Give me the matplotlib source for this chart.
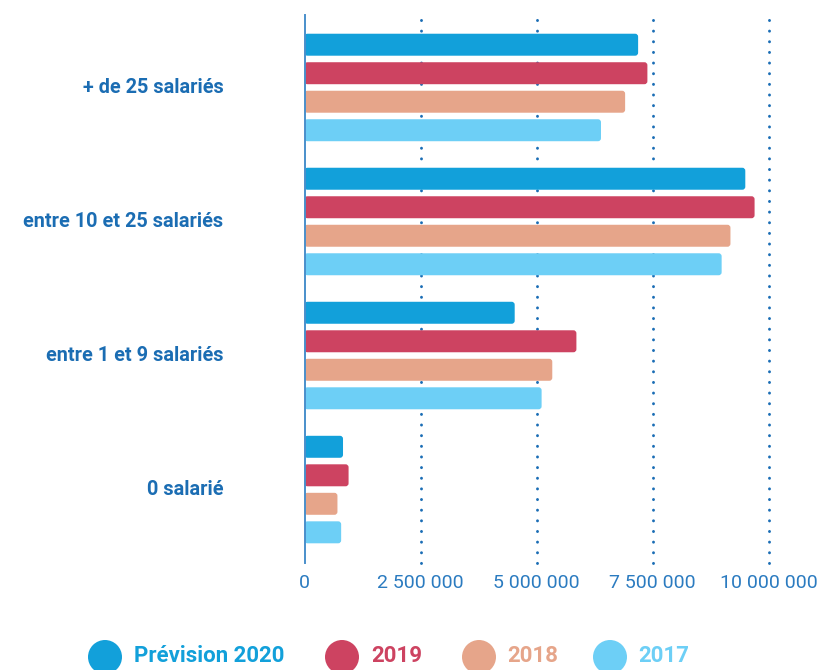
import matplotlib
matplotlib.use("Agg")
import matplotlib.pyplot as plt
from matplotlib.patches import FancyBboxPatch, Ellipse
import numpy as np

categories = ["+ de 25 salariés", "entre 10 et 25 salariés", "entre 1 et 9 salariés", "0 salarié"]
series_names = ["Prévision 2020", "2019", "2018", "2017"]
prev2020 = [7190000, 9500000, 4530000, 830000]
y2019 = [7390000, 9700000, 5860000, 950000]
y2018 = [6910000, 9180000, 5340000, 710000]
y2017 = [6390000, 8990000, 5110000, 790000]
series_values = [prev2020, y2019, y2018, y2017]
colors = ["#12A0DA", "#CD4361", "#E6A58A", "#6DCFF6"]
xticks = [0, 2500000, 5000000, 7500000, 10000000]
xtick_labels = ["0", "2 500 000", "5 000 000", "7 500 000", "10 000 000"]

W, H = 827, 670
fig = plt.figure(figsize=(W / 100, H / 100), dpi=100)
ax = fig.add_axes([304.5 / W, 1 - 563 / H, (768.5 - 304.5) / W, (563 - 15.5) / H])

label_color = "#1B6DB3"
tick_color = "#2B7BC0"

step = 0.2127
bar_h = 0.164
offsets = (np.arange(4) - 1.5) * step
ypos = np.arange(len(categories))

ax.set_xlim(0, 10000000)
ax.set_ylim(3 + 0.548, -0.537)

px_x = 10000000 / (768.5 - 304.5)
px_y = (3 + 0.548 + 0.537) / (563 - 15.5)

for i, (vals, col) in enumerate(zip(series_values, colors)):
    bars = ax.barh(ypos + offsets[i], vals, height=bar_h, color=col, zorder=3)
    for b in bars:
        x0, y0 = b.get_x(), b.get_y()
        w, h = b.get_width(), b.get_height()
        b.set_visible(False)
        p = FancyBboxPatch((x0, y0), w, h,
                           boxstyle="round,pad=0,rounding_size=%f" % (3 * px_x),
                           mutation_aspect=px_y / px_x,
                           facecolor=col, edgecolor="none", zorder=3)
        ax.add_patch(p)

for xt in xticks[1:]:
    ax.axvline(xt, color="#1A6DB5", lw=2.1, linestyle=(0, (0.05, 3.6)),
               dash_capstyle="round", zorder=1, clip_on=False)

for s in ["top", "right", "bottom"]:
    ax.spines[s].set_visible(False)
ax.spines["left"].set_color("#4A8FCB")
ax.spines["left"].set_linewidth(1.4)
ax.spines["left"].set_zorder(4)

ax.set_xticks(xticks)
ax.set_xticklabels(xtick_labels, fontfamily="Roboto", fontsize=14, color=tick_color)
ax.tick_params(axis="x", length=0, pad=8)
ax.set_yticks([])

for yc, cat in zip(ypos, categories):
    ax.text(-81 * px_x, yc, cat, ha="right", va="center", fontfamily="Roboto",
            fontweight="bold", fontsize=14.3, color=label_color)

# legend
leg_circle_x = [105, 342, 479, 610]
leg_text_x = [134, 371, 507, 638]
for cx, tx, name, col in zip(leg_circle_x, leg_text_x, series_names, colors):
    fig.add_artist(Ellipse((cx / W, 1 - 657 / H), 34 / W, 34 / H, transform=fig.transFigure,
                           facecolor=col, edgecolor="none"))
    fig.text(tx / W, 1 - 656 / H, name, ha="left", va="center", fontfamily="Roboto",
             fontweight="bold", fontsize=16.0, color=col)

fig.savefig("out.png", dpi=100)
